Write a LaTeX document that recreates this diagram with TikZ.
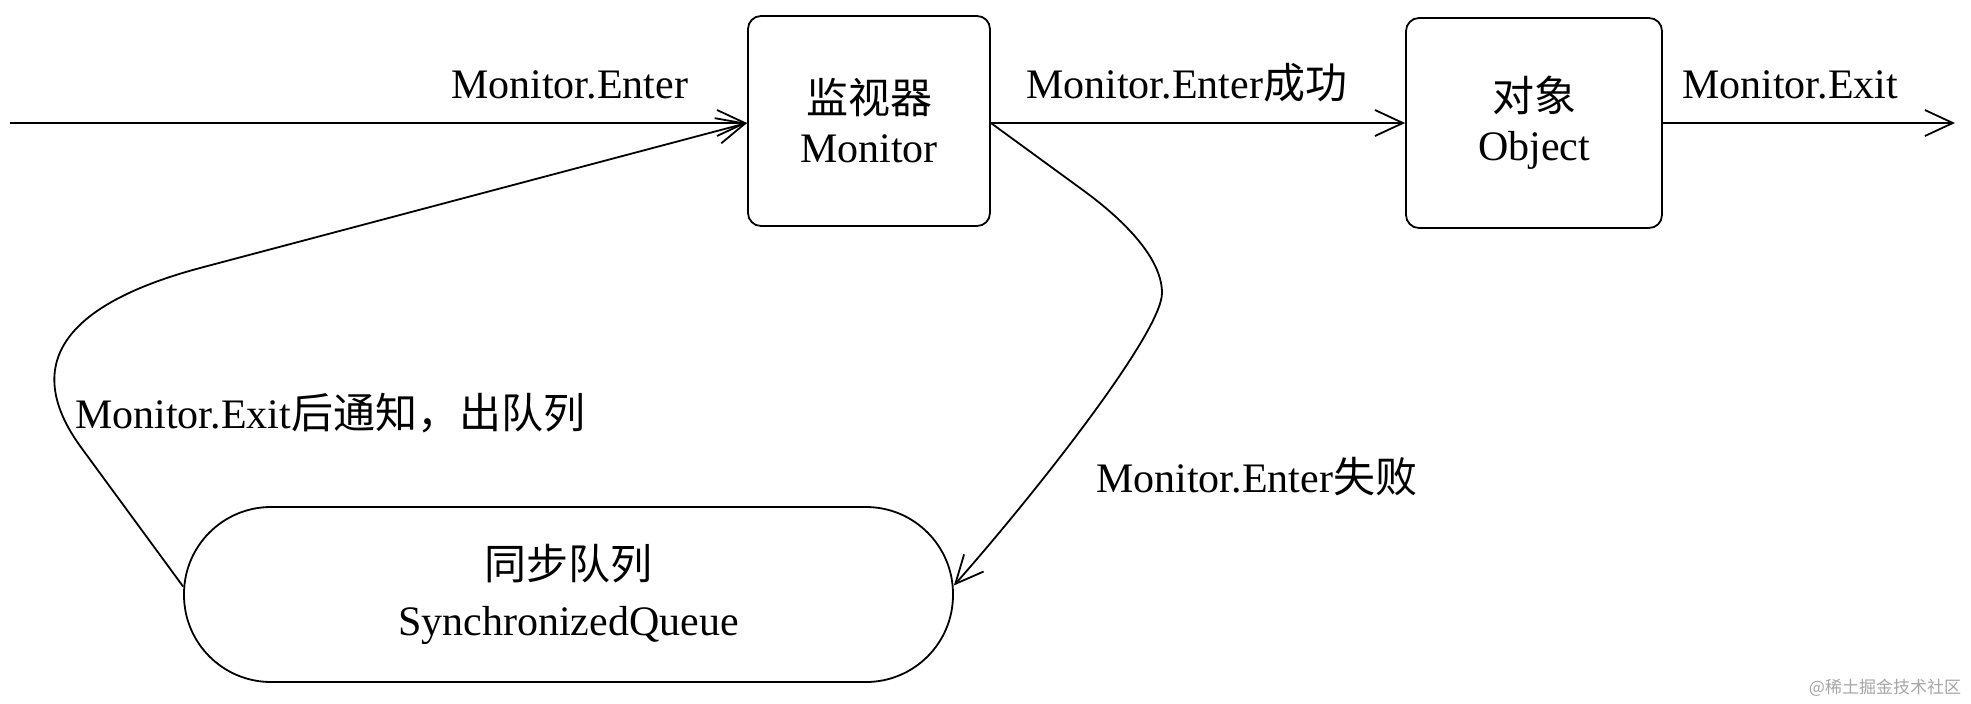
\documentclass[tikz,border=0pt]{standalone}
\usepackage{fontspec}
\setmainfont{Liberation Serif}
\newfontfamily\cjk{Noto Sans CJK SC}
\usetikzlibrary{arrows.meta}
\tikzset{
  arr/.style={-{Straight Barb[length=28pt,width=26pt]}, line width=1.8pt},
  boxnode/.style={draw, line width=1.8pt, rounded corners=13pt, inner sep=0pt,
    minimum height=210pt, align=center, font=\fontsize{42}{49}\selectfont},
  queuenode/.style={draw, line width=1.8pt, rounded corners=87pt, inner sep=0pt,
    minimum width=769pt, minimum height=175pt, align=center, font=\fontsize{42}{56}\selectfont},
  lbl/.style={inner sep=0pt, anchor=base west, font=\fontsize{42}{50}\selectfont},
  wm/.style={inner sep=0pt, text=black!35, font=\cjk\fontsize{17}{20}\selectfont}
}
\begin{document}
\begin{tikzpicture}[x=1pt,y=-1pt]
\useasboundingbox[fill=white] (0,0) rectangle (1971,704);
% nodes
\node[boxnode, minimum width=242pt] (M) at (869,121) {{\cjk 监视器}\\Monitor};
\node[boxnode, minimum width=256pt] (O) at (1534,123) {{\cjk 对象}\\Object};
\node[queuenode] (Q) at (568.5,594.5) {{\cjk 同步队列}\\SynchronizedQueue};
\coordinate (start) at (10,123);
\coordinate (end) at (1955,123);
% labels
\node[lbl] (l1) at (451,98) {Monitor.Enter};
\node[lbl] (l2) at (1026,98) {Monitor.Enter{\cjk 成功}};
\node[lbl] (l3) at (1682,98) {Monitor.Exit};
\node[lbl] (l4) at (75,428) {Monitor.Exit{\cjk 后通知，出队列}};
\node[lbl] (l5) at (1096,492) {Monitor.Enter{\cjk 失败}};
\node[wm] (w) at (1885,688) {@稀土掘金技术社区};
% connectors
\draw[arr] (start) -- (M.west |- start);
\draw[arr] (M.east |- start) -- (O.west);
\draw[arr] (O.east) -- (end);
\draw[arr] (M.east |- start) -- (1080,188) .. controls (1112,211) and (1162,253) .. (1162,293)
  .. controls (1162,333) and (1033,496) .. ([yshift=9pt]Q.east);
\draw[arr] ([yshift=8pt]Q.west) -- (83,450) .. controls (23,370) and (55,307) .. (200,268) -- (M.west |- start);
\end{tikzpicture}
\end{document}
